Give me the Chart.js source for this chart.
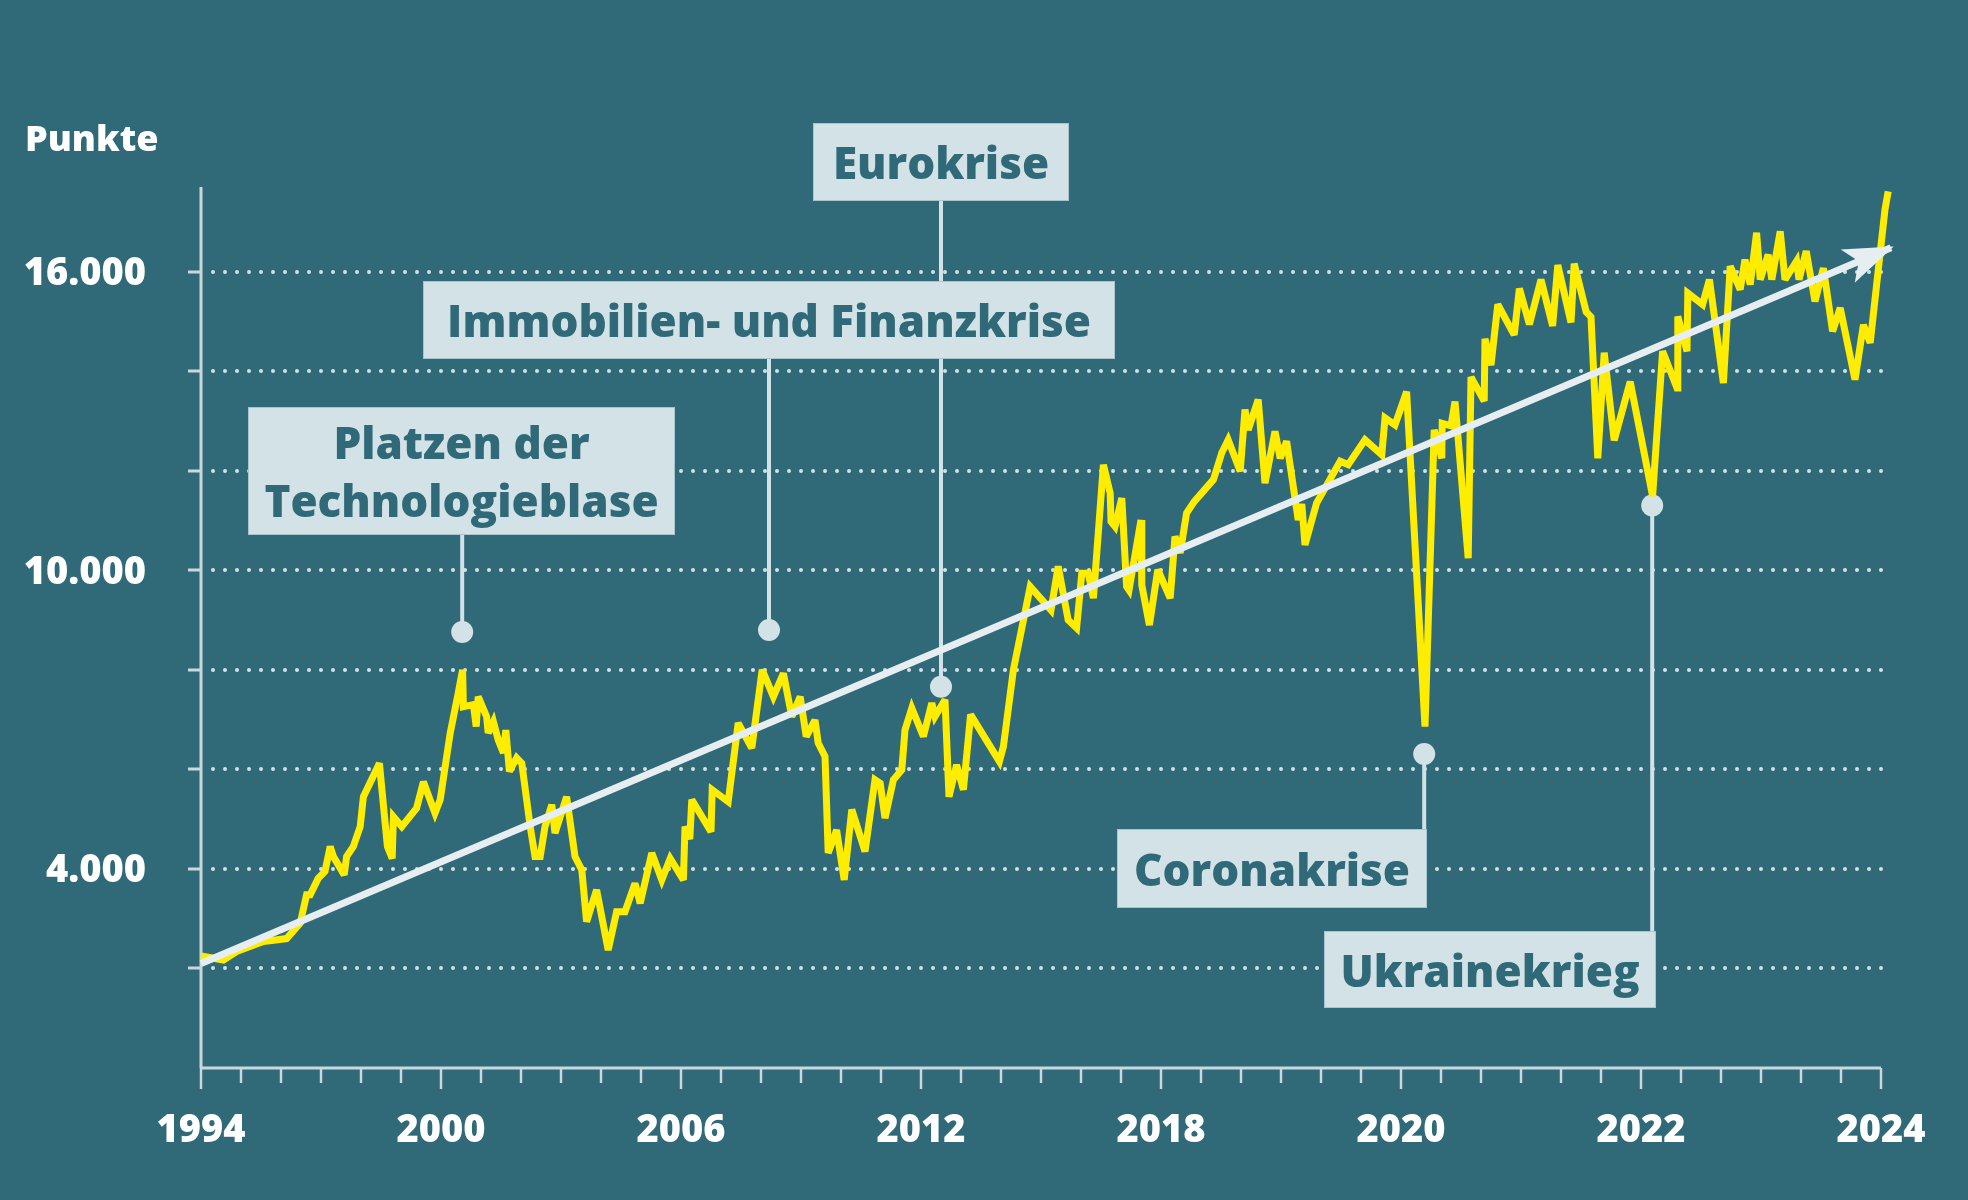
<!DOCTYPE html>
<html lang="de">
<head>
<meta charset="utf-8">
<script src="https://cdn.jsdelivr.net/npm/chart.js@4.4.1/dist/chart.umd.min.js"></script>
<style>
  html, body { margin: 0; padding: 0; background: #306a78; }
  canvas { display: block; }
</style>
</head>
<body>
<canvas id="daxChart" width="1968" height="1200"></canvas>
<script>
// x position: one unit per minor tick on the axis (labels sit on every 6th tick)
const xIndex = [0, 0.56, 0.89, 1.56, 2.14, 2.48, 2.64, 2.73, 2.93, 3.1, 3.23, 3.31, 3.58, 3.64, 3.81, 3.98, 4.06, 4.46, 4.66, 4.78,
  4.81, 5.02, 5.39, 5.56, 5.85, 5.98, 6.23, 6.43, 6.54, 6.56, 6.81, 6.88, 6.93, 7.14, 7.18, 7.31, 7.43, 7.56, 7.62, 7.71,
  7.89, 8.02, 8.23, 8.35, 8.48, 8.6, 8.77, 8.85, 9.14, 9.35, 9.52, 9.64, 9.89, 10.18, 10.39, 10.6, 10.85, 10.98, 11.27, 11.52,
  11.73, 12.06, 12.1, 12.22, 12.27, 12.75, 12.78, 13.18, 13.43, 13.77, 14.03, 14.31, 14.56, 14.77, 14.98, 15.13, 15.35, 15.43, 15.6, 15.68,
  15.89, 16.08, 16.27, 16.6, 16.85, 16.98, 17.1, 17.31, 17.52, 17.6, 17.77, 18.06, 18.27, 18.35, 18.6, 18.7, 18.89, 19.06, 19.24, 19.96,
  20.06, 20.31, 20.73, 21.25, 21.43, 21.68, 21.89, 22.02, 22.18, 22.31, 22.56, 22.73, 22.75, 22.85, 23.02, 23.14, 23.2, 23.5, 23.52, 23.71,
  23.92, 24.23, 24.35, 24.48, 24.64, 24.83, 25.31, 25.52, 25.68, 25.98, 26.1, 26.18, 26.43, 26.6, 26.85, 26.98, 27.14, 27.43, 27.52, 27.6,
  27.89, 28.48, 28.68, 29.1, 29.52, 29.6, 29.85, 30.14, 30.6, 30.83, 31.02, 31.03, 31.25, 31.35, 31.68, 31.75, 32.08, 32.1, 32.25, 32.42,
  32.83, 32.96, 33.21, 33.5, 33.79, 33.92, 34.25, 34.33, 34.63, 34.75, 34.92, 35.08, 35.33, 35.73, 36.29, 36.54, 36.9, 36.92, 37.15, 37.17,
  37.54, 37.71, 38.06, 38.23, 38.48, 38.6, 38.73, 38.89, 38.98, 39.18, 39.27, 39.48, 39.6, 39.89, 39.95, 40.13, 40.35, 40.56, 40.79, 40.98,
  41.35, 41.56, 41.73, 41.96, 42.1, 42.18];

const daxPoints = [2250, 2170, 2340, 2540, 2600, 2910, 3480, 3480, 3810, 3950, 4450, 4250, 3880, 4250, 4450, 4850, 5450, 6120, 4450, 4210,
  5050, 4850, 5220, 5750, 5120, 5390, 6730, 7530, 8000, 7260, 7300, 6860, 7460, 7060, 6730, 6960, 6590, 6330, 6790, 5960,
  6230, 6120, 4850, 4250, 4250, 4850, 5290, 4720, 5450, 4250, 3980, 2940, 3580, 2370, 3140, 3140, 3710, 3310, 4320, 3780,
  4210, 3780, 4850, 4600, 5390, 4750, 5590, 5350, 6930, 6430, 8000, 7460, 7930, 7060, 7460, 6660, 6990, 6530, 6260, 4320,
  4780, 3780, 5190, 4350, 5790, 5720, 5020, 5790, 5990, 6790, 7230, 6660, 7330, 7060, 7400, 5450, 6090, 5590, 7100, 6160,
  6460, 8000, 9670, 9200, 10080, 9000, 8840, 9940, 9940, 9440, 12120, 11550, 10980, 10880, 11450, 9670, 9600, 11010, 9700, 8900,
  10010, 9440, 10680, 10350, 11150, 11380, 11820, 12360, 12620, 11990, 13230, 12820, 13430, 11750, 12790, 12250, 12590, 11010, 11330, 10510,
  11350, 12190, 12120, 12620, 12320, 13060, 12920, 13590, 6860, 12820, 12250, 12950, 12900, 13390, 10240, 13880, 13400, 14650, 14120, 15340,
  14730, 15660, 14940, 15840, 14910, 16130, 14980, 16160, 15190, 15090, 12250, 14370, 12610, 13790, 11490, 14400, 13660, 15100, 14400, 15570,
  15340, 15840, 13760, 16110, 15640, 16240, 15740, 16780, 15840, 16340, 15840, 16810, 15840, 16210, 15840, 16410, 15400, 16070, 14800, 15270,
  13830, 14930, 14570, 16240, 17250, 17610];

// trend arrow, start and tip
const trendX = [0, 42.25];
const trendY = [2100, 16480];

const yearLabels = ['1994', '2000', '2006', '2012', '2018', '2020', '2022', '2024'];
const gridValues = [2000, 4000, 6000, 8000, 10000, 12000, 14000, 16000];
const labelledValues = [4000, 10000, 16000];

// annotation anchors (x index, points)
const eventNames = [['Platzen der', 'Technologieblase'], ['Immobilien- und Finanzkrise'], ['Eurokrise'], ['Coronakrise'], ['Ukrainekrieg']];
const eventX = [6.53, 14.2, 18.5, 30.58, 36.28];
const eventY = [8760, 8800, 7660, 6310, 11300];

// label boxes in canvas pixels: left, top, right, bottom
const eventBoxes = [
  [248, 407, 675, 535],
  [423, 281, 1115, 359],
  [813, 123, 1069, 201],
  [1117, 829, 1427, 908],
  [1324, 931, 1656, 1008]
];

const AXIS_END = 42;
const BG = '#306a78';
const YELLOW = '#ffed00';
const TREND = '#e6eef1';
const AXIS = '#c8d8dd';
const PALE = '#d3e2e7';
const FONT = '"Open Sans", "DejaVu Sans", sans-serif';

function fmt(v) {
  return String(v).replace(/\B(?=(\d{3})+(?!\d))/g, '.');
}

const decor = {
  id: 'decor',
  beforeDatasetsDraw(chart) {
    const ctx = chart.ctx;
    const xs = chart.scales.x, ys = chart.scales.y;
    const area = chart.chartArea;
    const left = xs.getPixelForValue(0);
    const right = xs.getPixelForValue(AXIS_END);
    const bottom = ys.getPixelForValue(0);
    ctx.save();

    // dotted grid
    ctx.strokeStyle = PALE;
    ctx.lineWidth = 4;
    ctx.lineCap = 'round';
    ctx.setLineDash([0, 12]);
    gridValues.forEach(v => {
      const y = Math.round(ys.getPixelForValue(v));
      ctx.beginPath();
      ctx.moveTo(left + 12, y);
      ctx.lineTo(right + 8, y);
      ctx.stroke();
    });
    ctx.setLineDash([]);
    ctx.lineCap = 'butt';

    // y tick marks + axis
    ctx.strokeStyle = AXIS;
    ctx.lineWidth = 3;
    gridValues.forEach(v => {
      const y = Math.round(ys.getPixelForValue(v));
      ctx.beginPath();
      ctx.moveTo(left - 13, y);
      ctx.lineTo(left, y);
      ctx.stroke();
    });
    ctx.beginPath();
    ctx.moveTo(left, area.top);
    ctx.lineTo(left, bottom);
    ctx.stroke();

    // x axis + ticks
    ctx.beginPath();
    ctx.moveTo(left, bottom);
    ctx.lineTo(right, bottom);
    ctx.stroke();
    ctx.lineWidth = 2.5;
    for (let i = 0; i <= AXIS_END; i++) {
      const x = xs.getPixelForValue(i);
      ctx.beginPath();
      ctx.moveTo(x, bottom);
      ctx.lineTo(x, bottom + (i % 6 === 0 ? 21 : 15));
      ctx.stroke();
    }

    // axis labels
    ctx.fillStyle = '#ffffff';
    ctx.font = '800 38px ' + FONT;
    ctx.textBaseline = 'alphabetic';
    ctx.textAlign = 'center';
    yearLabels.forEach((t, i) => {
      ctx.fillText(t, xs.getPixelForValue(i * 6), 1142);
    });
    ctx.textAlign = 'right';
    labelledValues.forEach(v => {
      ctx.fillText(fmt(v), 146, ys.getPixelForValue(v) + 13.5);
    });
    ctx.textAlign = 'left';
    ctx.font = '800 36px ' + FONT;
    ctx.fillText('Punkte', 25, 151);

    // connectors and dots first, boxes on top
    ctx.strokeStyle = PALE;
    ctx.fillStyle = PALE;
    ctx.lineWidth = 4;
    eventNames.forEach((lines, i) => {
      const b = eventBoxes[i];
      const px = xs.getPixelForValue(eventX[i]);
      const py = ys.getPixelForValue(eventY[i]);
      ctx.beginPath();
      ctx.moveTo(px, py);
      ctx.lineTo(px, py > b[3] ? b[3] : b[1]);
      ctx.stroke();
      ctx.beginPath();
      ctx.arc(px, py, 11, 0, Math.PI * 2);
      ctx.fill();
    });

    eventNames.forEach((lines, i) => {
      const b = eventBoxes[i];
      ctx.fillStyle = PALE;
      ctx.fillRect(b[0], b[1], b[2] - b[0], b[3] - b[1]);
      ctx.strokeStyle = '#a9c4cc';
      ctx.lineWidth = 1;
      ctx.strokeRect(b[0] + 0.5, b[1] + 0.5, b[2] - b[0] - 1, b[3] - b[1] - 1);

      ctx.fillStyle = BG;
      ctx.font = '800 44px ' + FONT;
      ctx.textAlign = 'center';
      ctx.textBaseline = 'alphabetic';
      const cx = (b[0] + b[2]) / 2;
      const cy = (b[1] + b[3]) / 2;
      lines.forEach((t, k) => {
        ctx.fillText(t, cx, cy + 17 + (k - (lines.length - 1) / 2) * 58);
      });
    });
    ctx.restore();
  },
  beforeDatasetDraw(chart) {
    // sharp spikes get a flat end, like in the print graphic
    chart.ctx.miterLimit = 3;
  },
  afterDatasetsDraw(chart) {
    const ctx = chart.ctx;
    const xs = chart.scales.x, ys = chart.scales.y;
    const x0 = xs.getPixelForValue(trendX[0]), y0 = ys.getPixelForValue(trendY[0]);
    const x1 = xs.getPixelForValue(trendX[1]), y1 = ys.getPixelForValue(trendY[1]);
    const len = Math.hypot(x1 - x0, y1 - y0);
    const dx = (x1 - x0) / len, dy = (y1 - y0) / len;
    const nx = -dy, ny = dx;
    const tipX = x1 + dx * 3, tipY = y1 + dy * 3;
    ctx.save();
    ctx.fillStyle = TREND;
    ctx.beginPath();
    ctx.moveTo(tipX, tipY);
    ctx.lineTo(tipX - dx * 50 + nx * 18, tipY - dy * 50 + ny * 18);
    ctx.lineTo(tipX - dx * 38, tipY - dy * 38);
    ctx.lineTo(tipX - dx * 50 - nx * 18, tipY - dy * 50 - ny * 18);
    ctx.closePath();
    ctx.fill();
    ctx.restore();
  }
};

function draw() {
  const ctx = document.getElementById('daxChart').getContext('2d');
  new Chart(ctx, {
    type: 'line',
    data: {
      datasets: [{
        data: trendX.map((x, i) => ({ x: x, y: trendY[i] })),
        borderColor: TREND,
        borderWidth: 7,
        pointRadius: 0,
        clip: false,
        order: 0
      }, {
        data: xIndex.map((x, i) => ({ x: x, y: daxPoints[i] })),
        borderColor: YELLOW,
        borderWidth: 7,
        borderJoinStyle: 'miter',
        pointRadius: 0,
        tension: 0,
        clip: false,
        order: 1
      }]
    },
    options: {
      responsive: false,
      animation: false,
      layout: { padding: { top: 187, right: 77, left: 0, bottom: 0 } },
      plugins: { legend: { display: false }, tooltip: { enabled: false } },
      scales: {
        x: {
          type: 'linear',
          min: 0,
          max: 42.25,
          grid: { display: false },
          border: { display: false },
          ticks: { display: false },
          afterFit: s => { s.height = 132; }
        },
        y: {
          min: 0,
          max: 17700,
          grid: { display: false },
          border: { display: false },
          ticks: { display: false, stepSize: 2000 },
          afterFit: s => { s.width = 201; }
        }
      }
    },
    plugins: [decor]
  });
}

if (document.fonts && document.fonts.load) {
  Promise.all([
    document.fonts.load('800 44px "Open Sans"'),
    document.fonts.load('800 38px "Open Sans"')
  ]).then(draw, draw);
} else {
  draw();
}
</script>
</body>
</html>
